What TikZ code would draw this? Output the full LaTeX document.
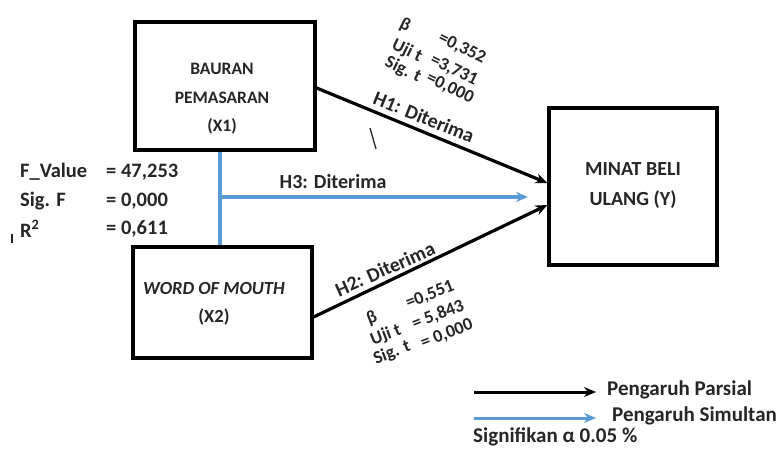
\documentclass[tikz,border=0pt]{standalone}
\usepackage{fontspec}
\setmainfont{Carlito}
\usetikzlibrary{arrows.meta,calc}
\definecolor{ink}{HTML}{262626}
\definecolor{sblue}{HTML}{5B9BD5}
\tikzset{
  box/.style={draw=black, line width=3.2pt, inner sep=0pt},
  boxtext/.style={align=center, text=ink, inner sep=0pt},
  part/.style={draw=black, line width=3.2pt, -{Stealth[length=12pt,width=10pt]}},
  simul/.style={draw=sblue, line width=3.2pt, -{Stealth[length=12pt,width=10pt]}},
  hlab/.style={font=\bfseries\fontsize{20}{24}\selectfont, text=ink, inner sep=0pt},
  stat/.style={font=\bfseries\fontsize{18}{20}\selectfont, text=ink, inner sep=0pt},
  big/.style={font=\bfseries\fontsize{20.5}{24}\selectfont, text=ink, inner sep=0pt, anchor=west},
  leg/.style={font=\bfseries\fontsize{21}{24}\selectfont, text=ink, inner sep=0pt, anchor=west},
}
\begin{document}
\begin{tikzpicture}[x=1pt,y=-1pt]
\useasboundingbox (0,0) rectangle (781,450);
\fill[white] (0,0) rectangle (781,450);
% boxes
\node[box, minimum width=180pt, minimum height=128pt] (x1) at (225,86) {};
\node[box, minimum width=179pt, minimum height=111pt] (x2) at (222.5,302.5) {};
\node[box, minimum width=168pt, minimum height=157pt] (y) at (633,186.5) {};
\node[boxtext, font=\bfseries\fontsize{17.5}{28.5}\selectfont] (x1t) at (222,99) {BAURAN\\PEMASARAN\\(X1)};
\node[boxtext, font=\bfseries\fontsize{18.5}{28}\selectfont] (x2t) at (214,304) {\itshape WORD OF MOUTH\\(X2)};
\node[boxtext, font=\bfseries\fontsize{20}{30}\selectfont] (yt) at (633,186) {MINAT BELI\\ULANG (Y)};
% simultaneous
\coordinate (j) at (220,197);
\coordinate (b) at (528,197);
\draw[sblue, line width=3.2pt] ([xshift=-5pt]x1.south) -- ([xshift=-2.5pt]x2.north);
\draw[simul] (j) -- (b);
% partial
\draw[part] ([yshift=-2pt]x1.east) -- ([yshift=3.5pt]y.west);
\draw[part] ([yshift=-14.5pt]x2.east) -- ([yshift=-18.5pt]y.west);
% labels
\node[hlab, rotate=-22] (h1) at (424,117) {H1: Diterima};
\node[hlab, rotate=24] (h2) at (385,269) {H2: Diterima};
\node[hlab] (h3) at (333,182) {H3: Diterima};
% stats H1
\begin{scope}[every node/.style={stat, rotate=-26}]
\node (b1) at (405,25) {β};
\node (u1) at (407,51) {Uji t};
\node (g1) at (403,70) {Sig. t};
\node (b1v) at (462,48) {=0,352};
\node (u1v) at (454,70) {=3,731};
\node (g1v) at (450,88) {=0,000};
\end{scope}
% stats H2
\begin{scope}[every node/.style={stat, rotate=21}]
\node (b2) at (372,318) {β};
\node (u2) at (386,335) {Uji t};
\node (g2) at (392,353) {Sig. t};
\node (b2v) at (430,295) {=0,551};
\node (u2v) at (438,315) {= 5,843};
\node (g2v) at (447,334) {= 0,000};
\end{scope}
% left stats
\node[big] (fv) at (20,172) {F\_Value};
\node[big] (fvv) at (106,172) {= 47,253};
\node[big] (sf) at (20,201) {Sig. F};
\node[big] (sfv) at (106,201) {= 0,000};
\node[big] (r2) at (20,229) {R\textsuperscript{2}};
\node[big] (r2v) at (106,229) {= 0,611};
% legend
\coordinate (la) at (474,392);
\coordinate (lb) at (596,392);
\coordinate (lc) at (474,418);
\coordinate (ld) at (596,418);
\draw[part, line width=3pt] (la) -- (lb);
\draw[simul, line width=3pt] (lc) -- (ld);
\node[leg] (lp) at (607,390) {Pengaruh Parsial};
\node[leg] (ls) at (612,416) {Pengaruh Simultan};
\node[leg] (lsig) at (473,437) {Signifikan α 0.05 \%};
% stray marks
\draw[ink, line width=1.3pt] (370,128) -- (376,149);
\draw[ink, line width=1.3pt] (12,234) -- (12,243);
\end{tikzpicture}
\end{document}
